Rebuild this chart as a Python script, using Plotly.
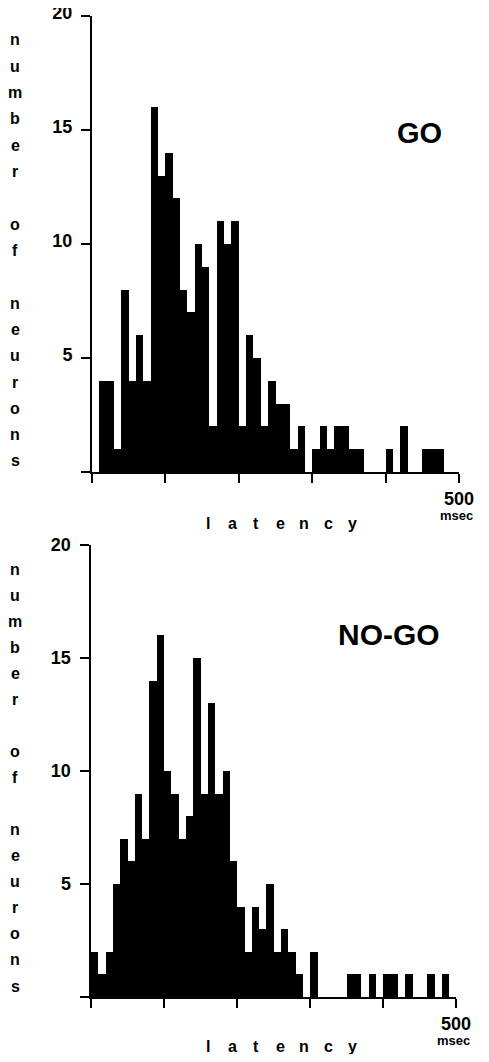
import plotly.graph_objects as go

# The page body keeps its default 8 px margin, so the figure is placed 8 px in
# from the top-left corner and sized to fit the window without overflow.
OFF = 8
W, H = 489 - 2 * OFF, 1062 - 2 * OFF

# latency bins (ms, bin start), 10 ms wide
bin_start = [0, 10, 20, 30, 40, 50, 60, 70, 80, 90,
             100, 110, 120, 130, 140, 150, 160, 170, 180, 190,
             200, 210, 220, 230, 240, 250, 260, 270, 280, 290,
             300, 310, 320, 330, 340, 350, 360, 370, 380, 390,
             400, 410, 420, 430, 440, 450, 460, 470, 480, 490]

go_counts = [0, 4, 4, 1, 8, 4, 6, 4, 16, 13,
             14, 12, 8, 7, 10, 9, 2, 11, 10, 11,
             2, 6, 5, 2, 4, 3, 3, 1, 2, 0,
             1, 2, 1, 2, 2, 1, 1, 0, 0, 0,
             1, 0, 2, 0, 0, 1, 1, 1, 0, 0]

nogo_counts = [2, 1, 2, 5, 7, 6, 9, 7, 14, 16,
               10, 9, 7, 8, 15, 9, 13, 9, 10, 6,
               4, 2, 4, 3, 5, 2, 3, 2, 1, 0,
               2, 0, 0, 0, 0, 1, 1, 0, 1, 0,
               1, 1, 0, 1, 0, 0, 1, 0, 1, 0]

y_tickvals = [0, 5, 10, 15, 20]
y_ticktext = ["", "5", "10", "15", "20"]
x_tickvals = [0, 100, 200, 300, 400, 500]
x_ticktext = ["", "", "", "", "", "500"]

panel_titles = ["GO", "NO-GO"]
y_title = "number of neurons"
x_title = "latency"
x_unit = "msec"

FONT = "Liberation Sans, Arial, Helvetica, sans-serif"


def px(x):
    return (x - OFF) / W


def py(y):
    return 1 - (y - OFF) / H


# panel geometry in reference pixels: (x0, x_end, y_base, y_top, label shift)
panels = [(92, 459, 472, 16, -3), (90.5, 456, 997, 545, 0)]

fig = go.Figure()
for i, counts in enumerate([go_counts, nogo_counts]):
    sfx = "" if i == 0 else str(i + 1)
    fig.add_trace(go.Bar(
        x=bin_start, y=counts, width=10, offset=0,
        marker=dict(color="black", line=dict(width=0)),
        xaxis="x" + sfx, yaxis="y" + sfx, showlegend=False,
        hoverinfo="skip"))

axis_common = dict(showline=True, linecolor="black", linewidth=2,
                   ticks="outside", ticklen=9, tickwidth=2, tickcolor="black",
                   showgrid=False, zeroline=False, fixedrange=True,
                   automargin=False, ticklabeloverflow="allow",
                   tickfont=dict(family=FONT, size=18, color="black", weight="bold"))

layout = dict(width=W, height=H, margin=dict(l=0, r=0, t=0, b=0, pad=0),
              autosize=False,
              paper_bgcolor="white", plot_bgcolor="white", bargap=0,
              showlegend=False)

annotations = []
for i, (x0, x1, yb, yt, shift) in enumerate(panels):
    sfx = "" if i == 0 else str(i + 1)
    layout["xaxis" + sfx] = dict(domain=[px(x0), px(x1)], range=[0, 500],
                                 anchor="y" + sfx, tickvals=x_tickvals,
                                 ticktext=x_ticktext, **axis_common)
    layout["yaxis" + sfx] = dict(domain=[py(yb), py(yt)], range=[0, 20],
                                 anchor="x" + sfx, tickvals=y_tickvals,
                                 ticktext=y_ticktext, ticklabelstandoff=5,
                                 ticklabelshift=shift,
                                 **axis_common)
    # vertical stacked y title
    letters = list(y_title)
    n0 = yt + 24
    n1 = yb - 11
    step = (n1 - n0) / (len(letters) - 1)
    for k, ch in enumerate(letters):
        if ch == " ":
            continue
        annotations.append(dict(text=ch, x=px(15), y=py(n0 + k * step),
                                xref="paper", yref="paper", showarrow=False,
                                xanchor="center", yanchor="middle",
                                font=dict(family=FONT, size=16, color="black", weight="bold")))
    # letter-spaced x title
    xl = list(x_title)
    lx0, lx1 = 208, 352
    lstep = (lx1 - lx0) / (len(xl) - 1)
    for k, ch in enumerate(xl):
        annotations.append(dict(text=ch, x=px(lx0 + k * lstep), y=py(min(yb + 51, 1046)),
                                xref="paper", yref="paper", showarrow=False,
                                xanchor="center", yanchor="middle",
                                font=dict(family=FONT, size=16, color="black", weight="bold")))
    annotations.append(dict(text=x_unit, x=px(x1 - 3), y=py(yb + 43),
                            xref="paper", yref="paper", showarrow=False,
                            xanchor="center", yanchor="middle",
                            font=dict(family=FONT, size=13, color="black", weight="bold")))

annotations.append(dict(text=panel_titles[0], x=px(419), y=py(133),
                        xref="paper", yref="paper", showarrow=False,
                        xanchor="center", yanchor="middle",
                        font=dict(family=FONT, size=29, color="black", weight="bold")))
annotations.append(dict(text=panel_titles[1], x=px(389), y=py(634),
                        xref="paper", yref="paper", showarrow=False,
                        xanchor="center", yanchor="middle",
                        font=dict(family=FONT, size=30, color="black", weight="bold")))

layout["annotations"] = annotations
fig.update_layout(**layout)
fig.write_html("out.html")
